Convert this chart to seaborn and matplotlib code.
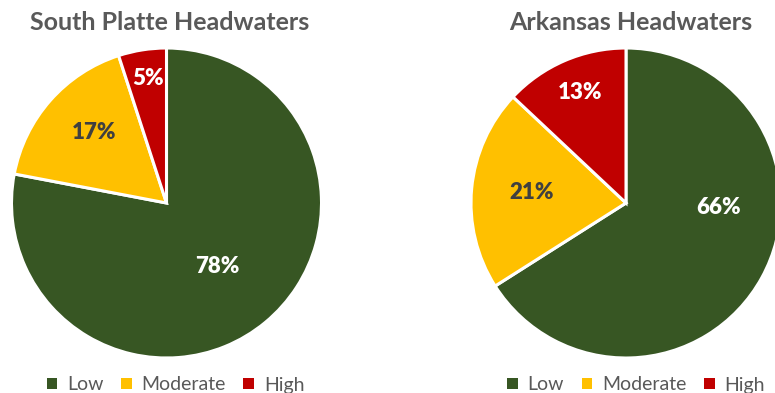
import matplotlib
matplotlib.use("Agg")
import matplotlib.pyplot as plt
import seaborn as sns
from matplotlib.patches import Patch

# ---- data ----
categories = ["Low", "Moderate", "High"]
south_platte = [78, 17, 5]
arkansas = [66, 21, 13]
titles = ["South Platte Headwaters", "Arkansas Headwaters"]

# ---- style ----
sns.set_theme(style="white")
plt.rcParams["font.family"] = ["Lato", "DejaVu Sans"]
colors = ["#375623", "#FFC000", "#C00000"]
label_colors = ["white", "#404040", "white"]
title_color = "#595959"

W, H = 775, 393
fig = plt.figure(figsize=(W / 100, H / 100), dpi=100)

# pie placement (pixels): center x, center y (from top), radius
layouts = [(166.5, 203, 155), (626, 203, 155)]
# label placement in radius units (dx, dy) relative to pie centre
label_pos = [
    [(0.326, -0.41), (-0.468, 0.452), (-0.119, 0.806)],
    [(0.594, -0.032), (-0.606, 0.065), (-0.297, 0.71)],
]

for i, (vals, title) in enumerate(zip([south_platte, arkansas], titles)):
    cx, cy, r = layouts[i]
    ax = fig.add_axes([(cx - r) / W, (H - cy - r) / H, 2 * r / W, 2 * r / H])
    wedges, texts, autotexts = ax.pie(
        vals, colors=colors, startangle=90, counterclock=False,
        autopct="%d%%", pctdistance=0.6,
        wedgeprops=dict(edgecolor="white", linewidth=2.2),
        textprops=dict(fontsize=16, fontweight="heavy"),
    )
    for w in wedges:
        w.set_clip_on(False)
    for t, c, (dx, dy) in zip(autotexts, label_colors, label_pos[i]):
        t.set_color(c)
        t.set_position((dx, dy))
    ax.set_xlim(-1, 1)
    ax.set_ylim(-1, 1)
    ax.set_aspect("equal")
    ax.axis("off")

    tx = 170 if i == 0 else 631
    fig.text(tx / W, 1 - 22 / H, title, ha="center", va="center",
             fontsize=18, fontweight="bold", color=title_color)

    handles = [Patch(facecolor=c, edgecolor="none") for c in colors]
    lx = 175.5 if i == 0 else 636
    leg = fig.legend(handles, categories, loc="center",
                     bbox_to_anchor=(lx / W, 1 - 385 / H), ncol=3,
                     frameon=False, fontsize=14, handlelength=0.55,
                     handleheight=0.55, handletextpad=0.5, columnspacing=0.9,
                     labelcolor="#595959")

fig.savefig("out.png", dpi=100)
